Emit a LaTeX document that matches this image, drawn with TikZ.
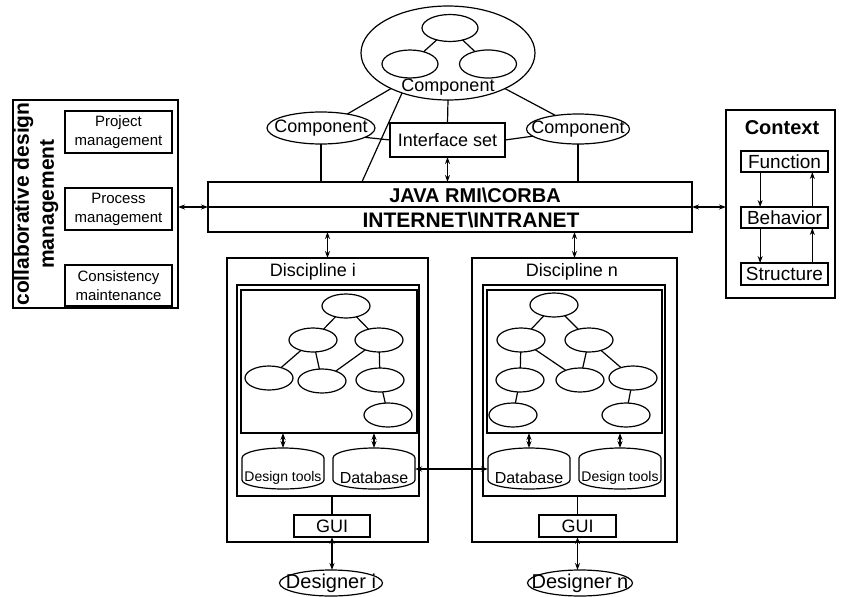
\documentclass[tikz,border=0pt]{standalone}
\usepackage{fontspec}
\setmainfont{Liberation Sans}
\usetikzlibrary{shapes.geometric,arrows.meta,calc}

% drum outline (dome on top, rounded base) around a side-wall node
\newcommand\drawdrum[1]{%
  \draw (#1.north west) arc[start angle=180,end angle=0,x radius=41pt,y radius=10pt]
        -- (#1.south east) arc[start angle=0,end angle=-180,x radius=41pt,y radius=9pt]
        -- cycle;}

\begin{document}
\begin{tikzpicture}[x=1pt,y=-1pt,line width=1.2pt,
  >={Stealth[length=7pt,width=5pt]},
  every node/.style={inner sep=0pt,outer sep=0pt},
  txt/.style={font=\fontsize{18}{21}\selectfont},
  small/.style={font=\fontsize{15}{19}\selectfont,align=center},
  heavy/.style={font=\fontsize{20}{25}\selectfont\bfseries},
  frame/.style={draw,rectangle},
  oval/.style={draw,ellipse},
  leaf/.style={draw,ellipse,minimum width=48pt,minimum height=24pt},
  drumbody/.style={minimum width=82pt,minimum height=22pt},
  link/.style={<->},
]
\fill[white] (0,0) rectangle (846,597);
\useasboundingbox (0,0) rectangle (846,597);

% ---------- component hierarchy ----------
\node[oval,minimum width=174pt,minimum height=94pt] (bigc) at (448,53) {};
\node[oval,minimum width=56pt,minimum height=27pt] (c1) at (450,28) {};
\node[oval,minimum width=56pt,minimum height=28pt] (c2) at (410,64) {};
\node[oval,minimum width=57pt,minimum height=28pt] (c3) at (488,64) {};
\draw (c1) -- (c2);
\draw (c1) -- (c3);
\node[txt] (bigc-t) at (448,87) {Component};

\node[oval,minimum width=108pt,minimum height=32pt] (lcomp) at (321,128) {};
\node[txt] (lcomp-t) at (lcomp) {Component};
\node[oval,minimum width=103pt,minimum height=30pt] (rcomp) at (578,129) {};
\node[txt] (rcomp-t) at (rcomp) {Component};
\node[frame,txt,minimum width=115pt,minimum height=34pt] (iface) at (447.5,140) {Interface set};

% ---------- middleware bus ----------
\node[frame,minimum width=484pt,minimum height=25pt] (java) at (450,194.5) {};
\node[frame,minimum width=484pt,minimum height=25pt] (inet) at (450,219.5) {};
\node[heavy] (java-t) at (475,195) {JAVA RMI\textbackslash CORBA};
\node[heavy,font=\fontsize{21}{25}\selectfont\bfseries] (inet-t) at (471,220) {INTERNET\textbackslash INTRANET};

\draw (bigc.212) -- (lcomp.28);
\draw (bigc.221) -- ($(java.north west)!.318!(java.north east)$);
\draw (bigc.south) -- (iface.north);
\draw (bigc.328) -- (rcomp.149);
\draw (lcomp.348) -- (iface.west);
\draw (iface.east) -- (rcomp.189);
\draw (lcomp.south) -- (lcomp.south |- java.north);
\draw (rcomp.south) -- (rcomp.south |- java.north);
\draw[link] (iface.south) -- (iface.south |- java.north);

% ---------- design management ----------
\node[frame,minimum width=165pt,minimum height=208pt] (mgmt) at (95.5,204) {};
\node[font=\fontsize{21}{25}\selectfont\bfseries,align=center,rotate=90] (mgmt-t) at (36,204)
  {collaborative design\\management};
\node[frame,small,minimum width=107pt,minimum height=42pt] (proj) at (118.5,132) {Project\\management};
\node[frame,small,minimum width=107pt,minimum height=42pt] (proc) at (118.5,209) {Process\\management};
\node[frame,small,minimum width=107pt,minimum height=41pt] (cons) at (118.5,285.5) {Consistency\\maintenance};
\draw[link] (java.south west -| mgmt.east) -- (java.south west);

% ---------- context ----------
\node[frame,minimum width=109pt,minimum height=188pt] (ctx) at (780.5,204) {};
\node[font=\fontsize{20}{22}\selectfont\bfseries] (ctx-t) at (782,128) {Context};
\node[frame,font=\fontsize{19}{22}\selectfont,minimum width=87pt,minimum height=21pt] (func) at (784.5,161.5) {Function};
\node[frame,font=\fontsize{19}{22}\selectfont,minimum width=87pt,minimum height=21pt] (beh) at (784.5,217.5) {Behavior};
\node[frame,font=\fontsize{19}{22}\selectfont,minimum width=87pt,minimum height=22pt] (struc) at (784.5,274) {Structure};
\draw[->] ($(func.south west)!.22!(func.south east)$) -- ($(beh.north west)!.22!(beh.north east)$);
\draw[<-] ($(func.south west)!.82!(func.south east)$) -- ($(beh.north west)!.82!(beh.north east)$);
\draw[->] ($(beh.south west)!.22!(beh.south east)$) -- ($(struc.north west)!.22!(struc.north east)$);
\draw[<-] ($(beh.south west)!.82!(beh.south east)$) -- ($(struc.north west)!.82!(struc.north east)$);
\draw[link] (java.south east) -- (java.south east -| ctx.west);

% ---------- discipline i ----------
\node[frame,minimum width=201pt,minimum height=284pt] (disci) at (327.5,400) {};
\node[txt] (disci-t) at (313,272) {Discipline i};
\node[frame,minimum width=182pt,minimum height=211pt] (framei) at (328,390.5) {};
\node[frame,minimum width=176pt,minimum height=143pt] (treei) at (329,361.5) {};
\node[leaf] (ti1) at (346,306) {};
\node[leaf] (ti2) at (313,340) {};
\node[leaf] (ti3) at (379,340) {};
\node[leaf] (ti4) at (269,378) {};
\node[leaf] (ti5) at (322,381) {};
\node[leaf] (ti6) at (380,380) {};
\node[leaf] (ti7) at (388,415) {};
\draw (ti1) -- (ti2);
\draw (ti1) -- (ti3);
\draw (ti2) -- (ti4);
\draw (ti2) -- (ti5);
\draw (ti3) -- (ti5);
\draw (ti3) -- (ti6);
\draw (ti6) -- (ti7);

\node[drumbody] (dti) at (283,469) {};
\drawdrum{dti}
\node[font=\fontsize{14}{16}\selectfont] (dti-t) at (283,478) {Design tools};
\node[drumbody] (dbi) at (374,469) {};
\drawdrum{dbi}
\node[font=\fontsize{16}{18}\selectfont] (dbi-t) at (374,478) {Database};
\draw[link] (dti.north |- treei.south) -- ($(dti.north)+(0,-10)$);
\draw[link] (dbi.north |- treei.south) -- ($(dbi.north)+(0,-10)$);

\node[frame,txt,minimum width=76pt,minimum height=22pt] (guii) at (332,526) {GUI};
\draw (guii.north |- framei.south) -- (guii.north);
\node[oval,minimum width=103pt,minimum height=26pt] (desi) at (331,583) {};
\node[font=\fontsize{20}{22}\selectfont] (desi-t) at (desi) {Designer i};
\draw[link] (guii.south) -- (guii.south |- desi.north);

% ---------- discipline n ----------
\node[frame,minimum width=205pt,minimum height=284pt] (discn) at (574.5,400) {};
\node[txt] (discn-t) at (572,272) {Discipline n};
\node[frame,minimum width=182pt,minimum height=211pt] (framen) at (574,390.5) {};
\node[frame,minimum width=175pt,minimum height=143pt] (treen) at (574.5,361.5) {};
\node[leaf] (tn1) at (554,305) {};
\node[leaf] (tn2) at (521,340) {};
\node[leaf] (tn3) at (589,340) {};
\node[leaf] (tn4) at (520,380) {};
\node[leaf] (tn5) at (580,380) {};
\node[leaf] (tn6) at (633,378) {};
\node[leaf] (tn7) at (513,415) {};
\node[leaf] (tn8) at (626,415) {};
\draw (tn1) -- (tn2);
\draw (tn1) -- (tn3);
\draw (tn2) -- (tn4);
\draw (tn2) -- (tn5);
\draw (tn3) -- (tn5);
\draw (tn3) -- (tn6);
\draw (tn4) -- (tn7);
\draw (tn6) -- (tn8);

\node[drumbody] (dbn) at (529,469) {};
\drawdrum{dbn}
\node[font=\fontsize{16}{18}\selectfont] (dbn-t) at (529,478) {Database};
\node[drumbody] (dtn) at (620,469) {};
\drawdrum{dtn}
\node[font=\fontsize{14}{16}\selectfont] (dtn-t) at (620,478) {Design tools};
\draw[link] (dbn.north |- treen.south) -- ($(dbn.north)+(0,-10)$);
\draw[link] (dtn.north |- treen.south) -- ($(dtn.north)+(0,-10)$);

\node[frame,txt,minimum width=77pt,minimum height=22pt] (guin) at (577.5,526) {GUI};
\draw (guin.north |- framen.south) -- (guin.north);
\node[oval,minimum width=105pt,minimum height=26pt] (desn) at (580,583) {};
\node[font=\fontsize{20}{22}\selectfont] (desn-t) at (desn) {Designer n};
\draw[link] (guin.south) -- (guin.south |- desn.north);

% ---------- links between bus, disciplines and databases ----------
\draw[link] (disci.north |- inet.south) -- (disci.north);
\draw[link] (discn.north |- inet.south) -- (discn.north);
\draw[link] (dbi.east) -- (dbn.west);
\end{tikzpicture}
\end{document}
